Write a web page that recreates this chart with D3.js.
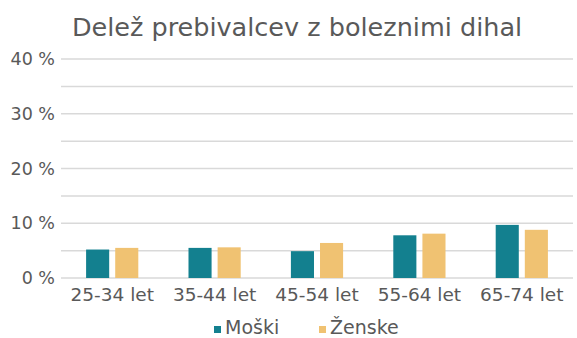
<!DOCTYPE html>
<html>
<head>
<meta charset="utf-8">
<script src="https://cdn.jsdelivr.net/npm/d3@7"></script>
<style>
  html, body { margin: 0; padding: 0; background: #fff; }
  svg { display: block; }
  text { font-family: "DejaVu Sans", sans-serif; fill: #595959; }
</style>
</head>
<body>
<svg id="chart" width="577" height="338"></svg>
<script>
// Age groups and shares (%) of residents with respiratory diseases
const categories = ["25-34 let", "35-44 let", "45-54 let", "55-64 let", "65-74 let"];
const seriesNames = ["Moški", "Ženske"];
const moski = [5.2, 5.5, 4.9, 7.8, 9.7];
const zenske = [5.5, 5.6, 6.4, 8.1, 8.8];
const yTicks = [0, 10, 20, 30, 40];
const yGrid = [0, 5, 10, 15, 20, 25, 30, 35, 40];
const colors = ["#13808f", "#f0c272"];

const svg = d3.select("#chart");
const margin = { left: 61, right: 4, top: 59, bottom: 60 };
const W = 577, H = 338;

const x = d3.scaleBand().domain(categories).range([margin.left, W - margin.right]);
const y = d3.scaleLinear().domain([0, 40]).range([H - margin.bottom, margin.top]);

// Title
svg.append("text")
  .attr("x", 297).attr("y", 36)
  .attr("text-anchor", "middle")
  .style("font-size", "25.5px")
  .text("Delež prebivalcev z boleznimi dihal");

// Horizontal gridlines
svg.append("g").selectAll("line").data(yGrid).join("line")
  .attr("x1", x.range()[0]).attr("x2", x.range()[1])
  .attr("y1", d => y(d)).attr("y2", d => y(d))
  .attr("stroke", "#d9d9d9").attr("stroke-width", 1.5);

// Y axis labels
const yAxis = d3.axisLeft(y).tickValues(yTicks).tickSize(0).tickPadding(6)
  .tickFormat(d => d + " %");
svg.append("g").attr("transform", `translate(${margin.left},0)`).call(yAxis)
  .call(g => g.select(".domain").remove())
  .call(g => g.selectAll("text").style("font-size", "17.5px").attr("fill", "#595959")
    .style("font-family", "DejaVu Sans, sans-serif"));

// X axis labels
const xAxis = d3.axisBottom(x).tickSize(0).tickPadding(10);
svg.append("g").attr("transform", `translate(0,${y(0)})`).call(xAxis)
  .call(g => g.select(".domain").remove())
  .call(g => g.selectAll("text").style("font-size", "18.5px").attr("fill", "#595959")
    .style("font-family", "DejaVu Sans, sans-serif"));

// Bars
const inner = d3.scaleBand().domain(seriesNames).range([0, x.bandwidth()])
  .paddingInner(0.207).paddingOuter(0.862);
const data = categories.map((c, i) => ({ c, vals: [moski[i], zenske[i]] }));
const groups = svg.append("g").selectAll("g").data(data).join("g")
  .attr("transform", d => `translate(${x(d.c)},0)`);
groups.selectAll("rect").data(d => d.vals.map((v, j) => ({ v, s: seriesNames[j], j })))
  .join("rect")
  .attr("x", d => inner(d.s))
  .attr("width", inner.bandwidth())
  .attr("y", d => y(d.v))
  .attr("height", d => y(0) - y(d.v))
  .attr("fill", d => colors[d.j]);

// Legend
const legend = svg.append("g");
const legendItems = [
  { name: seriesNames[0], color: colors[0], x: 214 },
  { name: seriesNames[1], color: colors[1], x: 319 }
];
legendItems.forEach(it => {
  legend.append("rect").attr("x", it.x).attr("y", 326).attr("width", 7).attr("height", 7)
    .attr("fill", it.color);
  legend.append("text").attr("x", it.x + 11).attr("y", 334)
    .style("font-size", "19px").text(it.name);
});
</script>
</body>
</html>
